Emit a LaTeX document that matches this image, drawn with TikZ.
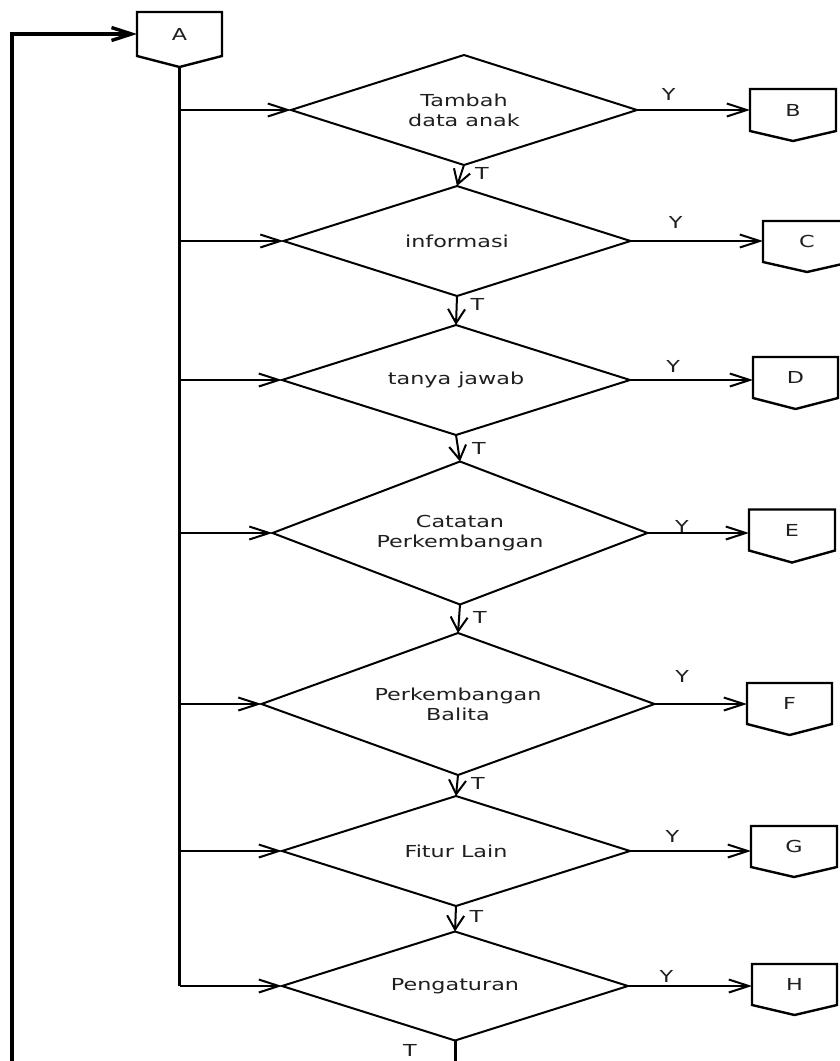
\documentclass[tikz,border=0pt]{standalone}
\usepackage{fontspec}
\newfontfamily\dfont[FakeStretch=1.35]{DejaVu Sans}
\usetikzlibrary{arrows.meta,shapes.geometric,calc}
\begin{document}
\begin{tikzpicture}[x=1pt,y=-1pt,
  every node/.style={font=\dfont\fontsize{16.5}{20}\selectfont, text=black!88},
  dec/.style={diamond, draw=black, line width=2pt, inner sep=0pt, outer sep=0pt, align=center, shape aspect=3},
  conn/.style={rectangle, draw=none, minimum width=86pt, minimum height=41pt, inner sep=0pt, outer sep=0pt},
  boxline/.style={draw=black, line width=2.4pt, line join=miter},
  harr/.style={draw=black, line width=2pt, -{Straight Barb[length=20pt,width=13pt]}},
  varr/.style={draw=black, line width=2pt, -{Straight Barb[length=14pt,width=17pt]}},
  spine/.style={draw=black, line width=3pt},
  lab/.style={inner sep=0pt, anchor=south},
  tlab/.style={inner sep=0pt, anchor=west, xshift=13pt}
]
\useasboundingbox (0,0) rectangle (839,1061);
\fill[white] (0,0) rectangle (839,1061);

% off-page connectors
\node[conn, minimum width=85pt, minimum height=44pt] (A) at (179.5,34) {A};
\node[conn, minimum height=42pt] (B) at (793,110) {B};
\node[conn, minimum width=88pt] (C) at (807,241.5) {C};
\node[conn, minimum width=85pt] (D) at (795.5,377.5) {D};
\node[conn] (E) at (792,530) {E};
\node[conn, minimum width=85pt] (F) at (789.5,703.5) {F};
\node[conn] (G) at (794,846.5) {G};
\node[conn, minimum width=85pt] (H) at (794.5,984.5) {H};
\foreach \n/\p in {A/11,B/10,C/10,D/11,E/12,F/11,G/10,H/10}{
  \draw[boxline] (\n.north west) -- (\n.north east) -- (\n.south east)
     -- ([yshift=-\p pt]\n.south) -- (\n.south west) -- cycle;
}
\coordinate (Apt) at ([yshift=-11pt]A.south);

% decisions
\node[dec, minimum width=346pt, minimum height=110pt] (D1) at (464,110) {Tambah\\data anak};
\node[dec, minimum width=347pt, minimum height=110pt] (D2) at (457,241) {informasi};
\node[dec, minimum width=348pt, minimum height=110pt] (D3) at (456,380) {tanya jawab};
\node[dec, minimum width=375pt, minimum height=143pt] (D4) at (460,533) {Catatan\\Perkembangan};
\node[dec, minimum width=393pt, minimum height=142pt] (D5) at (458,704) {Perkembangan\\Balita};
\node[dec, minimum width=348pt, minimum height=110pt] (D6) at (456,851) {Fitur Lain};
\node[dec, minimum width=346pt, minimum height=109pt] (D7) at (455,986) {Pengaturan};

% loop back to A
\coordinate (lb) at (12,1063);
\draw[spine, line width=3.4pt, -{Straight Barb[length=20pt,width=13pt]}] (lb) |- (A.west);

% spine and branches
\draw[spine] (Apt) -- (Apt |- D7.west);
\foreach \d in {D1,D2,D3,D4,D5,D6,D7}{
  \draw[harr] (Apt |- \d.west) -- (\d.west);
}

% T flow
\draw[varr] (D1.south) -- node[tlab, pos=0.4] {T} (D2.north);
\draw[varr] (D2.south) -- node[tlab, pos=0.3] {T} (D3.north);
\draw[varr] (D3.south) -- node[tlab, pos=0.5] {T} (D4.north);
\draw[varr] (D4.south) -- node[tlab, pos=0.45] {T} (D5.north);
\draw[varr] (D5.south) -- node[tlab, pos=0.4] {T} (D6.north);
\draw[varr] (D6.south) -- node[tlab, pos=0.4] {T} (D7.north);
\coordinate (bot) at (455,1063);
\draw[draw=black, line width=3pt] (D7.south) -- (bot);
\node (tlast) at (410,1050) {T};

% Y flow
\draw[harr] (D1.east) -- node[lab, pos=0.28, yshift=9pt] {Y} (D1.east -| B.west);
\draw[harr] (D2.east) -- node[lab, pos=0.34, yshift=12pt] {Y} (D2.east -| C.west);
\draw[harr] (D3.east) -- node[lab, pos=0.35, yshift=7pt] {Y} (D3.east -| D.west);
\draw[harr] (D4.east) -- node[lab, pos=0.34, yshift=0pt] {Y} (D4.east -| E.west);
\draw[harr] (D5.east) -- node[lab, pos=0.30, yshift=21pt] {Y} (D5.east -| F.west);
\draw[harr] (D6.east) -- node[lab, pos=0.35, yshift=8pt] {Y} (D6.east -| G.west);
\draw[harr] (D7.east) -- node[lab, pos=0.31, yshift=3pt] {Y} (D7.east -| H.west);
\end{tikzpicture}
\end{document}
